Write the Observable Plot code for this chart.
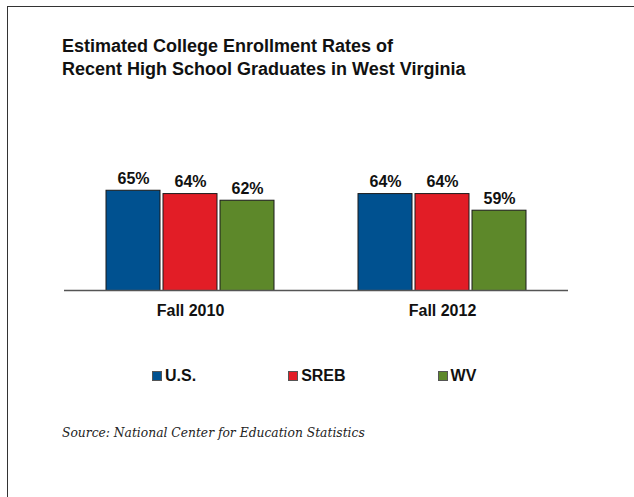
<!DOCTYPE html>
<html>
<head>
<meta charset="utf-8">
<script src="https://cdn.jsdelivr.net/npm/d3@7"></script>
<script src="https://cdn.jsdelivr.net/npm/@observablehq/plot@0.6"></script>
<style>
  html, body { margin: 0; padding: 0; background: #fff; width: 634px; height: 497px; overflow: hidden; }
  #frame { position: absolute; left: 7px; top: 6px; width: 700px; height: 600px;
           border-left: 1.5px solid #333; border-top: 1.5px solid #333; }
  #title { position: absolute; left: 62px; top: 35px; font-family: "Liberation Sans", Arial, sans-serif;
           font-weight: bold; font-size: 18px; line-height: 23px; color: #111; }
  #chart { position: absolute; left: 0; top: 140px; }
  #legend { position: absolute; left: 152px; top: 367px; display: flex; gap: 92px;
            font-family: "Liberation Sans", Arial, sans-serif; font-weight: bold; font-size: 16px; color: #111; }
  #legend .item { display: flex; align-items: center; }
  #legend .sw { width: 8px; height: 8px; border: 1px solid #555; margin-right: 3px; }
  #source { position: absolute; left: 62px; top: 426px; font-family: "DejaVu Serif", Georgia, serif;
            font-style: italic; font-size: 12.3px; color: #222; }
</style>
</head>
<body>
<div id="frame"></div>
<div id="title">Estimated College Enrollment Rates of<br>Recent High School Graduates in West Virginia</div>
<div id="chart"></div>
<div id="legend"></div>
<div id="source">Source: National Center for Education Statistics</div>
<script>
const periods = ["Fall 2010", "Fall 2012"];
const series = ["U.S.", "SREB", "WV"];
const colors = ["#005190", "#e21d26", "#5d882a"];
const valuesUS = [65, 64];
const valuesSREB = [64, 64];
const valuesWV = [62, 59];
const yDomain = [35, 75];

const seriesValues = [valuesUS, valuesSREB, valuesWV];
const data = [];
periods.forEach((p, i) => series.forEach((s, j) => data.push({period: p, series: s, value: seriesValues[j][i]})));

const chart = Plot.plot({
  width: 634,
  height: 190,
  marginLeft: 63,
  marginRight: 66,
  marginTop: 17,
  marginBottom: 40,
  fx: {domain: periods, padding: 0, label: null, axis: "bottom", tickSize: 0, tickPadding: 14},
  x: {domain: series, paddingInner: 0.045, paddingOuter: 0.717, axis: null},
  y: {domain: yDomain, axis: null},
  color: {domain: series, range: colors},
  style: {fontFamily: "Liberation Sans, Arial, sans-serif", fontSize: "16px", fontWeight: "bold", color: "#111"},
  marks: [
    Plot.barY(data, {fx: "period", x: "series", y: "value", fill: "series", stroke: "#1a1a1a", strokeWidth: 1, clip: "frame"}),
    Plot.text(data, {fx: "period", x: "series", y: "value", text: d => d.value + "%", lineAnchor: "bottom", dy: -7,
      fontSize: 16, fontWeight: "bold", fill: "#111"}),
    Plot.ruleY([yDomain[0]], {stroke: "#555", strokeWidth: 1.5})
  ]
});
document.getElementById("chart").appendChild(chart);

const legend = document.getElementById("legend");
series.forEach((s, i) => {
  const item = document.createElement("div");
  item.className = "item";
  const sw = document.createElement("div");
  sw.className = "sw";
  sw.style.background = colors[i];
  item.appendChild(sw);
  const t = document.createElement("span");
  t.textContent = s;
  item.appendChild(t);
  legend.appendChild(item);
});
</script>
</body>
</html>
